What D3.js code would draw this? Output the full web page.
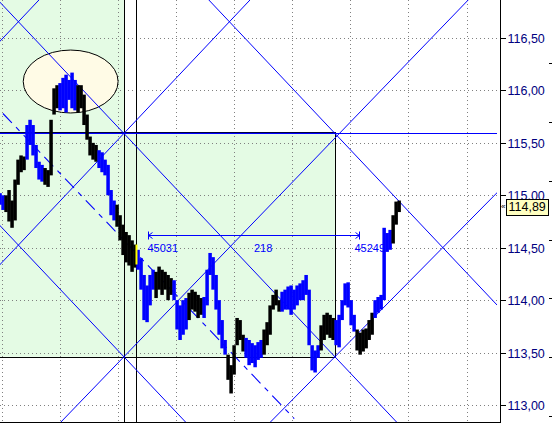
<!DOCTYPE html>
<html><head><meta charset="utf-8">
<script src="https://cdn.jsdelivr.net/npm/d3@7"></script>
<style>html,body{margin:0;padding:0;background:#fff;overflow:hidden}svg{display:block}</style>
</head><body><svg id="c" width="552" height="424"></svg>
<script>
// ---------------- data ----------------
const firstBar = 44878;      // bar number of first sample
const barsPerSample = 3.1;   // samples taken roughly every 3 bars
const highs = [
115.02,115.00,115.00,115.05,114.95,115.15,115.34,115.38,115.37,115.67,
115.72,115.67,115.48,115.32,115.29,115.26,115.24,115.72,116.02,116.05,
116.07,116.12,116.15,116.10,116.17,116.10,116.05,116.05,115.96,115.77,
115.56,115.50,115.48,115.43,115.41,115.34,115.29,115.05,114.95,114.91,
114.81,114.72,114.65,114.62,114.57,114.53,114.48,114.40,114.24,114.14,
114.24,114.29,114.27,114.32,114.29,114.27,114.24,114.21,114.19,114.00,
113.95,114.00,114.02,114.07,114.10,114.08,114.05,114.02,114.03,114.29,
114.45,114.41,114.24,114.00,113.81,113.62,113.48,113.38,113.57,113.83,
113.81,113.67,113.64,113.62,113.59,113.57,113.60,113.62,113.72,113.79,
113.95,114.05,114.10,114.00,114.08,114.10,114.13,114.14,114.10,114.14,
114.16,114.19,114.24,114.10,113.57,113.52,113.57,113.76,113.86,113.88,
113.86,113.83,113.81,113.86,114.00,114.16,114.17,114.00,113.86,113.72,
113.69,113.72,113.73,113.81,113.88,114.00,114.03,114.05,114.69,114.64,
114.67,114.81,114.94,114.95];
const lows = [
114.91,114.86,114.84,114.75,114.69,114.76,115.10,115.22,115.24,115.34,
115.48,115.38,115.26,115.15,115.13,115.10,115.08,115.19,115.77,115.83,
115.81,115.83,115.79,115.91,115.83,115.81,115.79,115.83,115.67,115.53,
115.38,115.34,115.32,115.26,115.22,115.19,115.00,114.81,114.76,114.70,
114.57,114.43,114.36,114.33,114.27,114.31,114.29,114.10,113.81,113.79,
113.95,114.10,114.02,114.10,114.05,114.10,114.00,114.05,114.00,113.72,
113.62,113.67,113.72,113.81,113.91,113.89,113.83,113.86,113.83,113.95,
114.24,114.10,113.91,113.67,113.54,113.48,113.24,113.11,113.29,113.57,
113.62,113.51,113.45,113.38,113.40,113.36,113.43,113.45,113.48,113.57,
113.67,113.91,113.95,113.89,113.89,113.91,113.91,113.86,113.91,113.95,
114.00,114.00,114.05,113.57,113.33,113.31,113.45,113.52,113.62,113.67,
113.64,113.62,113.57,113.55,113.81,113.95,113.93,113.76,113.70,113.52,
113.48,113.51,113.54,113.62,113.67,113.83,113.88,113.91,114.00,114.46,
114.48,114.54,114.72,114.84];
// B = blue trend, K = black trend
const trend = ("BBKKKKKKKB"+"BBBBBKKKKK"+"BBBBBBKKKK"+"KKKBBBBBBK"+"KKKKKKBBBB"+
  "BBKKKKKKBB"+"BBBKKKKKBB"+"BBBBBBKKKK"+"KKBBBBBBKK"+"KKKKBBBBBB"+
  "BBBBBBBKKK"+"KKBBBBBBBK"+"KKKKKBBBBB"+"BKKK").split("");

const priceTicks = [113.0,113.5,114.0,114.5,115.0,115.5,116.0,116.5];
const gridBars = [44880,44940,45000,45060,45120,45180,45240,45300,45360];
const lastPrice = 114.89;

// Gann box
const boxStartBar = 45006, boxEndBar = 45224;
const boxTop = 115.59, boxBottom = 113.46;
const cursorBar = 45019;
const cursorCandle = {high:114.53, low:114.34};
// Gann 1x1 lines (two lattice nodes each: [bar, price])
const gannLines = [
  [[44897,116.655],[45224,113.46]],
  [[45115,116.655],[45333,114.525]],
  [[44897,114.525],[45006,113.46]],
  [[44788,115.59],[44897,116.655]],
  [[44897,114.525],[45115,116.655]],
  [[45006,113.46],[45340,116.655]],
  [[45224,113.46],[45338,114.525]]
];
// dash-dot trend line
const trendLine = [[44881,115.78],[45182,112.87]];
// highlight ellipse
const ellipse = {bar:44951, price:116.085, bars:49, prices:0.30};
// measurement
const measure = {from:45031, to:45249, price:114.62};

// ---------------- drawing ----------------
const svg = d3.select("#c");
const plotR = 497, plotB = 422, axisX = 500.5;
const x = d3.scaleLinear().domain([44878, 45393]).range([0, 498.5]);
const y = d3.scaleLinear().domain([113, 116.5]).range([405, 38]);
const cr = v => Math.round(v) + 0.5;
const fmt = v => d3.format(".2f")(v).replace(".", ",");
const FONT = "Arial, 'Liberation Sans', sans-serif";

svg.append("rect").attr("width",552).attr("height",424).attr("fill","#fff");
svg.append("defs").append("clipPath").attr("id","plot")
  .append("rect").attr("x",0).attr("y",0).attr("width",plotR).attr("height",plotB);

const g = svg.append("g").attr("clip-path","url(#plot)");
const green = "#e4fbe4";
g.append("rect").attr("x",0).attr("y",0)
  .attr("width",x(boxStartBar)).attr("height",y(boxTop)).attr("fill",green);
g.append("rect").attr("x",0).attr("y",y(boxTop))
  .attr("width",x(boxEndBar)).attr("height",y(boxBottom)-y(boxTop)).attr("fill",green);

// grid
g.selectAll(".hg").data(priceTicks).join("line")
  .attr("x1",0).attr("x2",500).attr("y1",d=>cr(y(d))).attr("y2",d=>cr(y(d)))
  .attr("stroke","#808080").attr("stroke-dasharray","1,3");
g.selectAll(".vg").data(gridBars).join("line")
  .attr("y1",0).attr("y2",plotB).attr("x1",d=>cr(x(d))).attr("x2",d=>cr(x(d)))
  .attr("stroke","#808080").attr("stroke-dasharray","1,3");

// ellipse
g.append("ellipse").attr("cx",x(ellipse.bar)).attr("cy",y(ellipse.price))
  .attr("rx",x(ellipse.bar+ellipse.bars)-x(ellipse.bar))
  .attr("ry",y(ellipse.price-ellipse.prices)-y(ellipse.price))
  .attr("fill","#fffbe6").attr("stroke","#000").attr("stroke-width",1);

// box lines
const blk = (x1,y1,x2,y2,c="#000",w=1) => g.append("line").attr("x1",x1).attr("y1",y1)
  .attr("x2",x2).attr("y2",y2).attr("stroke",c).attr("stroke-width",w).attr("shape-rendering","crispEdges");
blk(cr(x(boxStartBar)),0,cr(x(boxStartBar)),plotB);
blk(cr(x(cursorBar)),0,cr(x(cursorBar)),plotB);
blk(cr(x(boxEndBar)),cr(y(boxTop)),cr(x(boxEndBar)),cr(y(boxBottom)));
blk(0,cr(y(boxBottom)),cr(x(boxEndBar)),cr(y(boxBottom)));
blk(0,cr(y(boxTop)),plotR,cr(y(boxTop)),"#0000ff");
blk(0,cr(y(boxTop))-1,cr(x(boxEndBar)),cr(y(boxTop))-1,"#000040");

// gann lines
const line = d3.line().x(d=>x(d[0])).y(d=>y(d[1]));
g.selectAll(".gl").data(gannLines).join("path")
  .attr("d", d => {
    const [a,b] = d, db = b[0]-a[0], dp = b[1]-a[1];
    return line([[a[0]-db*6, a[1]-dp*6],[b[0]+db*6, b[1]+dp*6]]);
  })
  .attr("fill","none").attr("stroke","#0000ff").attr("stroke-width",1);
g.append("path").attr("d", line(trendLine)).attr("fill","none")
  .attr("stroke","#0000ff").attr("stroke-width",1.1).attr("stroke-dasharray","13,6,5,6");

// price bars
const samples = highs.map((h,i)=>({bar:firstBar+i*barsPerSample, h, l:lows[i], t:trend[i]}));
g.selectAll(".bar").data(samples).join("rect")
  .attr("x", d=>x(d.bar)-1.7).attr("width",3.5)
  .attr("y", d=>y(d.h)).attr("height", d=>Math.max(1,y(d.l)-y(d.h)))
  .attr("fill", d=>d.t==="B" ? "#0000ff" : "#000");
g.append("rect").attr("x",x(cursorBar)-1).attr("width",2)
  .attr("y",y(cursorCandle.high)).attr("height",y(cursorCandle.low)-y(cursorCandle.high))
  .attr("fill","#ffff00");

// measurement tool
const my = cr(y(measure.price)), mx1 = cr(x(measure.from)), mx2 = cr(x(measure.to));
const m = svg.append("g").attr("stroke","#0000ff").attr("fill","none").attr("stroke-width",1);
m.append("line").attr("x1",mx1).attr("x2",mx2).attr("y1",my).attr("y2",my);
m.append("line").attr("x1",mx1).attr("x2",mx1).attr("y1",my-4).attr("y2",my+4);
m.append("line").attr("x1",mx2).attr("x2",mx2).attr("y1",my-4).attr("y2",my+4);
m.append("path").attr("d",`M${mx1+4},${my-3}L${mx1},${my}L${mx1+4},${my+3}`);
m.append("path").attr("d",`M${mx2-4},${my-3}L${mx2},${my}L${mx2-4},${my+3}`);
const mt = svg.append("g").attr("fill","#0000ff").attr("font-family",FONT).attr("font-size","11px");
mt.append("text").attr("x",mx1-1).attr("y",my+16).text(String(measure.from));
mt.append("text").attr("x",(mx1+mx2)/2).attr("y",my+16).text(String(measure.to-measure.from));
mt.append("text").attr("x",mx2-5).attr("y",my+16).text(String(measure.to));

// axis
svg.append("line").attr("x1",axisX).attr("x2",axisX).attr("y1",0).attr("y2",plotB)
  .attr("stroke","#000").attr("shape-rendering","crispEdges");
svg.append("line").attr("x1",0).attr("x2",axisX).attr("y1",cr(plotB)).attr("y2",cr(plotB))
  .attr("stroke","#000").attr("shape-rendering","crispEdges");
const ax = svg.append("g").attr("transform",`translate(${axisX},0)`)
  .call(d3.axisRight(y).tickValues(priceTicks).tickSize(5).tickPadding(2).tickFormat(fmt));
ax.select(".domain").remove();
ax.selectAll(".tick line").attr("stroke","#000").attr("shape-rendering","crispEdges");
ax.selectAll(".tick text").attr("fill","#000080").attr("font-size","12.5px")
  .attr("font-family",FONT);
ax.selectAll(".tick").attr("transform", d=>`translate(0,${cr(y(d))})`);

// outer minor ticks at far right
const outer = d3.scaleLinear().domain([0,6]).range([63,416]);
svg.selectAll(".ot").data(d3.range(7)).join("line")
  .attr("x1",549).attr("x2",552).attr("y1",d=>cr(outer(d))).attr("y2",d=>cr(outer(d)))
  .attr("stroke","#000");

// last price label
const ly = y(lastPrice);
svg.append("text").attr("x",501).attr("y",ly).attr("dy","0.33em").attr("font-size","8px")
  .attr("font-family",FONT).attr("fill","#000").text("«");
svg.append("rect").attr("x",506.5).attr("y",Math.round(ly)-7.5).attr("width",42).attr("height",16)
  .attr("fill","#ffffc0").attr("stroke","#000");
svg.append("text").attr("x",508.5).attr("y",ly).attr("dy","0.36em").attr("font-size","12.5px")
  .attr("font-family",FONT).attr("fill","#000").text(fmt(lastPrice));
</script></body></html>
